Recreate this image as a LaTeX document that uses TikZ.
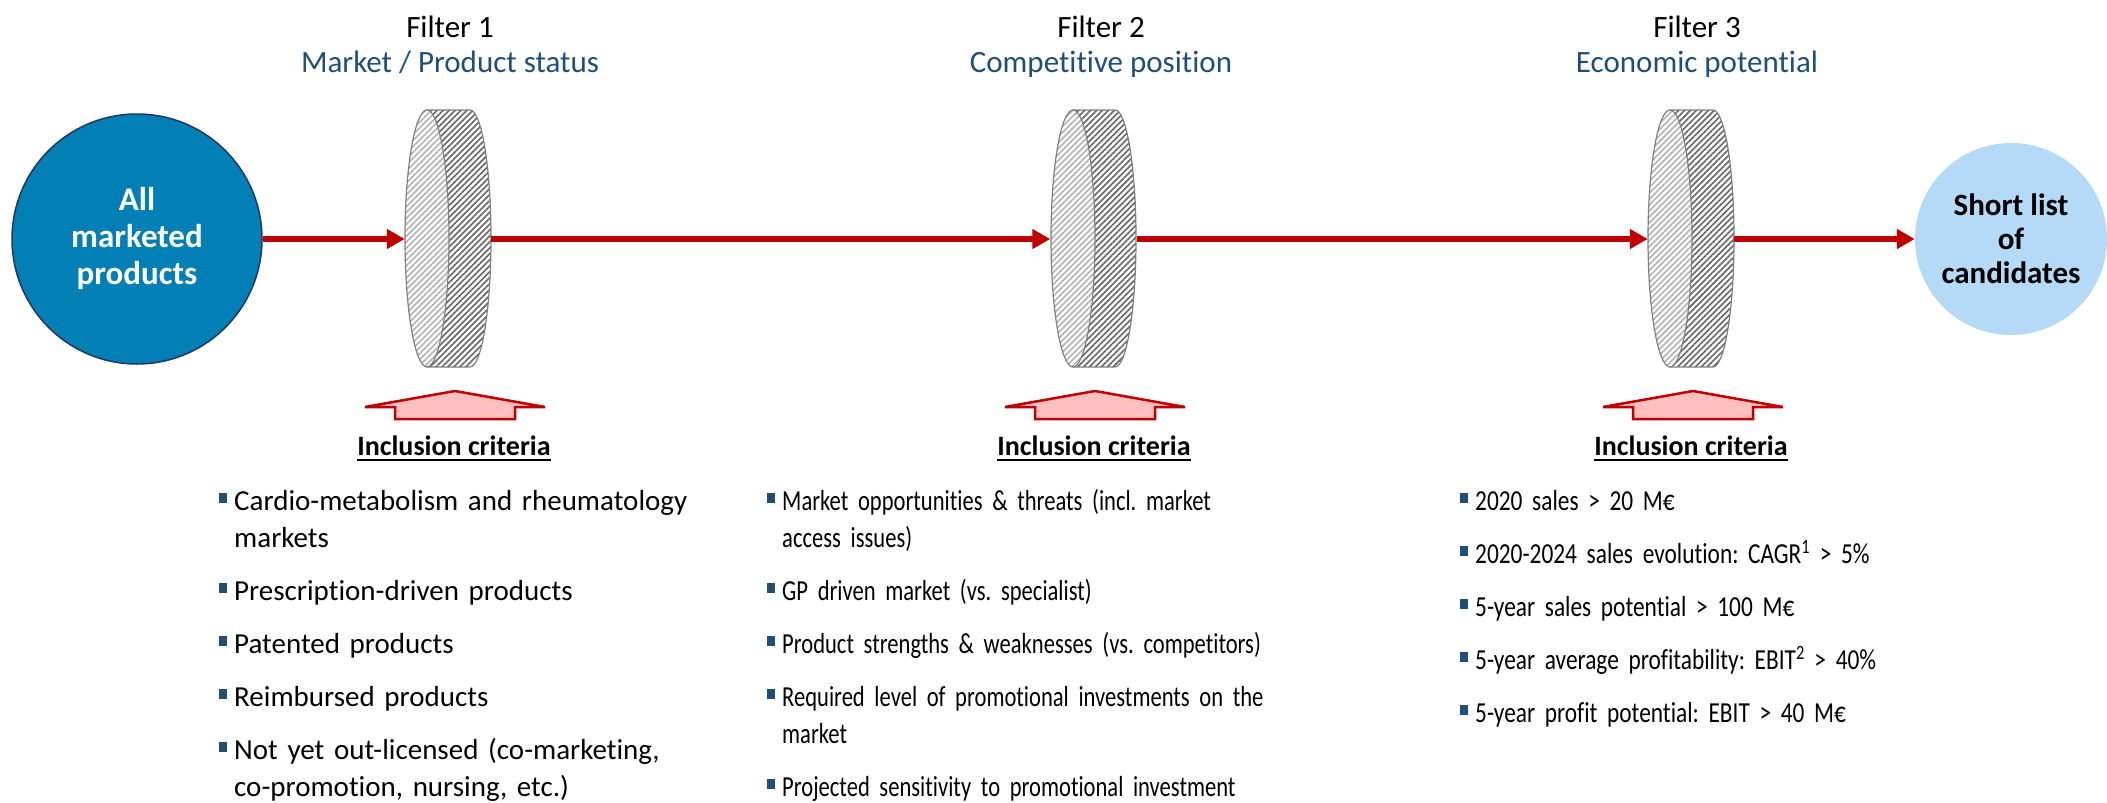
\documentclass[tikz,border=0pt]{standalone}
\usepackage{fontspec}
\setmainfont{Carlito}[Ligatures={TeX,NoCommon}]
\newfontfamily\midfont{Carlito}[Ligatures={TeX,NoCommon},FakeStretch=0.778,WordSpace=0.778]
\newfontfamily\rightfont{Carlito}[Ligatures={TeX,NoCommon},FakeStretch=0.805,WordSpace=0.805]
\usetikzlibrary{arrows.meta,patterns.meta}

\definecolor{flowred}{HTML}{C00000}
\definecolor{allblue}{HTML}{027FB5}
\definecolor{alledge}{HTML}{1F3864}
\definecolor{shortblue}{HTML}{B4DAF7}
\definecolor{headblue}{HTML}{1F4E79}
\definecolor{inclpink}{HTML}{FFBFBF}
\definecolor{discline}{HTML}{808080}

\newsavebox{\inclbox}
\newcommand{\inclul}[1]{\sbox{\inclbox}{#1}\rlap{\rule[-6pt]{\wd\inclbox}{2.5pt}}\usebox{\inclbox}}
\newcommand{\critsq}{\textcolor{headblue}{\rule[7pt]{8pt}{10pt}}}
\newcommand{\critem}[1]{\hangindent=15pt\hangafter=1\noindent\makebox[15pt][l]{\critsq}#1\par}

\begin{document}
\begin{tikzpicture}[x=1pt,y=-1pt,
  startnode/.style={circle,fill=allblue,draw=alledge,line width=1.5pt,minimum size=250pt,inner sep=0pt,
    text=white,align=center,font=\fontsize{33}{37}\selectfont\bfseries},
  endnode/.style={circle,fill=shortblue,minimum size=192pt,inner sep=0pt,
    align=center,font=\fontsize{31}{34}\selectfont\bfseries},
  flow/.style={draw=flowred,line width=6.5pt,-{Triangle[length=18pt,width=19pt]}},
  filterbox/.style={rectangle,inner sep=0pt,minimum width=86pt,minimum height=257pt},
  discbody/.style={draw=discline,line width=1.2pt,preaction={fill=white},
    pattern={Lines[angle=45,distance=4.2pt,line width=1.6pt]},pattern color=gray!80!black},
  discface/.style={draw=discline,line width=1.2pt,preaction={fill=white},
    pattern={Lines[angle=45,distance=4.2pt,line width=1.6pt]},pattern color=gray!60},
  filtertitle/.style={anchor=base,font=\fontsize{31}{36}\selectfont},
  filtersub/.style={anchor=base,text=headblue,font=\fontsize{31}{36}\selectfont},
  inclarrow/.style={draw=flowred,line width=2.5pt,fill=inclpink,line join=miter},
  incltext/.style={anchor=base,font=\fontsize{28}{34}\selectfont\bfseries},
  critlist/.style={anchor=base west,inner sep=0pt,font=\fontsize{29}{37}\selectfont,
    execute at begin node={\raggedright\frenchspacing\setlength{\parskip}{16pt}}}
]

\path[use as bounding box,fill=white] (0,0) rectangle (2107,803);

%START AND END
\node[startnode] (all) at (137,239) {All\\marketed\\products};
\node[endnode] (short) at (2011,239) {Short list\\of\\candidates};

%FILTERS
\node[filterbox] (f1) at (448,239) {};
\node[filterbox] (f2) at (1093.5,239) {};
\node[filterbox] (f3) at (1691,239) {};

\filldraw[discbody] (427,110) -- (470,110) arc[start angle=90,end angle=-90,x radius=21pt,y radius=128.5pt] -- (427,367) -- cycle;
\filldraw[discface] (427,238.5) ellipse[x radius=22pt,y radius=128.5pt];

\filldraw[discbody] (1073,110) -- (1115,110) arc[start angle=90,end angle=-90,x radius=21pt,y radius=128.5pt] -- (1073,367) -- cycle;
\filldraw[discface] (1073,238.5) ellipse[x radius=22pt,y radius=128.5pt];

\filldraw[discbody] (1670,110) -- (1713,110) arc[start angle=90,end angle=-90,x radius=21pt,y radius=128.5pt] -- (1670,367) -- cycle;
\filldraw[discface] (1670,238.5) ellipse[x radius=22pt,y radius=128.5pt];

\node[filtertitle] (t1) at (450,37) {Filter 1};
\node[filtersub] (s1) at (450,72) {Market / Product status};
\node[filtertitle] (t2) at (1101,37) {Filter 2};
\node[filtersub] (s2) at (1101,72) {Competitive position};
\node[filtertitle] (t3) at (1697,37) {Filter 3};
\node[filtersub] (s3) at (1697,72) {Economic potential};

\draw[flow] (all) -- (f1);
\draw[flow] (f1) -- (f2);
\draw[flow] (f2) -- (f3);
\draw[flow] (f3) -- (short);

%CRITERIA
\draw[inclarrow] (455,391) -- (545,407) -- (515,407) -- (515,419) -- (395,419) -- (395,407) -- (365,407) -- cycle;
\draw[inclarrow] (1095,391) -- (1185,407) -- (1155,407) -- (1155,419) -- (1035,419) -- (1035,407) -- (1005,407) -- cycle;
\draw[inclarrow] (1693,391) -- (1783,407) -- (1753,407) -- (1753,419) -- (1633,419) -- (1633,407) -- (1603,407) -- cycle;

\node[incltext] (i1) at (454,455) {\inclul{Inclusion criteria}};
\node[incltext] (i2) at (1094,455) {\inclul{Inclusion criteria}};
\node[incltext] (i3) at (1691,455) {\inclul{Inclusion criteria}};

\node[critlist,text width=478pt] (c1) at (219,510) {%
\critem{Cardio-metabolism and rheumatology\newline markets}
\critem{Prescription-driven products}
\critem{Patented products}
\critem{Reimbursed products}
\critem{Not yet out-licensed (co-marketing,\newline co-promotion, nursing, etc.)}};

\node[critlist,text width=560pt,font=\fontsize{29}{37}\midfont] (c2) at (767,510) {%
\critem{Market opportunities \& threats (incl. market\newline access issues)}
\critem{GP driven market (vs. specialist)}
\critem{Product strengths \& weaknesses (vs. competitors)}
\critem{Required level of promotional investments on the\newline market}
\critem{Projected sensitivity to promotional investment}};

\node[critlist,text width=620pt,font=\fontsize{29}{37}\rightfont] (c3) at (1460,510) {%
\critem{2020 sales > 20 M€}
\critem{2020-2024 sales evolution: CAGR\textsuperscript{1} > 5\%}
\critem{5-year sales potential > 100 M€}
\critem{5-year average profitability: EBIT\textsuperscript{2} > 40\%}
\critem{5-year profit potential: EBIT > 40 M€}};

\end{tikzpicture}
\end{document}
